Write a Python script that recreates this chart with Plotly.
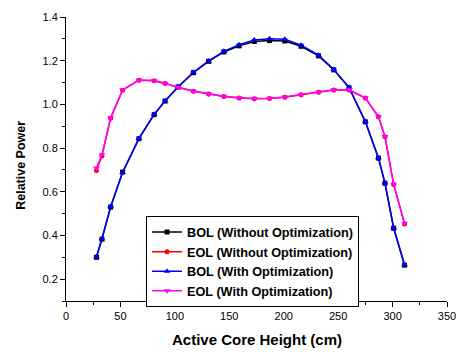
import plotly.graph_objects as go

# Axial positions (cm)
height = [28, 33, 41, 52, 67, 81, 91, 103, 117, 131, 145, 159, 173, 187,
          201, 216, 232, 246, 260, 275, 287, 293, 301, 311]

bol_without = [0.300, 0.383, 0.530, 0.690, 0.843, 0.953, 1.015, 1.080, 1.145, 1.197,
               1.240, 1.268, 1.288, 1.292, 1.290, 1.266, 1.222, 1.158, 1.076, 0.920,
               0.754, 0.639, 0.433, 0.264]
eol_without = [0.697, 0.764, 0.936, 1.065, 1.111, 1.108, 1.096, 1.077, 1.060, 1.047,
               1.036, 1.029, 1.026, 1.027, 1.033, 1.044, 1.056, 1.066, 1.066, 1.029,
               0.943, 0.852, 0.633, 0.452]
bol_with = [0.303, 0.385, 0.532, 0.688, 0.844, 0.955, 1.016, 1.081, 1.147, 1.199,
            1.243, 1.273, 1.295, 1.301, 1.298, 1.271, 1.225, 1.160, 1.078, 0.922,
            0.756, 0.641, 0.435, 0.266]
eol_with = [0.709, 0.769, 0.940, 1.067, 1.112, 1.109, 1.097, 1.078, 1.061, 1.048,
            1.037, 1.030, 1.027, 1.028, 1.034, 1.045, 1.057, 1.067, 1.067, 1.030,
            0.944, 0.853, 0.634, 0.456]

x_ticks = [0, 50, 100, 150, 200, 250, 300, 350]
y_ticks = [0.2, 0.4, 0.6, 0.8, 1.0, 1.2, 1.4]

FONT = "Arial, Liberation Sans, sans-serif"

fig = go.Figure()
series = [
    ("BOL (Without Optimization)", bol_without, "#000000", "square", 5),
    ("EOL (Without Optimization)", eol_without, "#ff0000", "circle", 5),
    ("BOL (With Optimization)", bol_with, "#0000ff", "triangle-up", 6),
    ("EOL (With Optimization)", eol_with, "#ff00ff", "triangle-down", 6),
]
for name, vals, col, sym, sz in series:
    fig.add_trace(go.Scatter(
        x=height, y=vals, name=name, mode="lines+markers",
        line=dict(color=col, width=1.5),
        marker=dict(symbol=sym, size=sz, color=col),
    ))

fig.update_layout(
    width=467, height=352,
    margin=dict(l=66, r=11, t=12, b=51),
    paper_bgcolor="white", plot_bgcolor="white",
    font=dict(family=FONT, size=11, color="black"),
    showlegend=True,
    legend=dict(
        x=0.21, y=0.298, xanchor="left", yanchor="top",
        bordercolor="black", borderwidth=1, bgcolor="white",
        font=dict(family=FONT, size=12.7, color="black", weight="bold"),
        tracegroupgap=0, itemwidth=30,
    ),
    annotations=[
        dict(text="<b>Relative Power</b>", textangle=-90, xref="paper", yref="paper",
             x=-0.12, y=0.477, xanchor="center", yanchor="middle", showarrow=False,
             font=dict(family=FONT, size=12.5, color="black")),
        dict(text="<b>Active Core Height (cm)</b>", xref="paper", yref="paper",
             x=0.5, y=-0.135, xanchor="center", yanchor="middle", showarrow=False,
             font=dict(family=FONT, size=15, color="black")),
    ],
)
fig.update_xaxes(
    range=[0, 350], tickvals=x_ticks, ticktext=[str(v) for v in x_ticks],
    showgrid=False, zeroline=False, showline=True, linecolor="black", linewidth=1,
    ticks="outside", ticklen=5, tickcolor="black",
    minor=dict(dtick=25, ticks="outside", ticklen=3, tickcolor="black", showgrid=False),
)
fig.update_yaxes(
    range=[0.1, 1.4], tickvals=y_ticks, ticktext=[f"{v:.1f}" for v in y_ticks],
    showgrid=False, zeroline=False, showline=True, linecolor="black", linewidth=1,
    ticks="outside", ticklen=5, tickcolor="black",
    minor=dict(dtick=0.1, tick0=0.1, ticks="outside", ticklen=3, tickcolor="black", showgrid=False),
)

fig.write_html("out.html", config={"displayModeBar": False},
               post_script="document.body.style.margin='0px';")
